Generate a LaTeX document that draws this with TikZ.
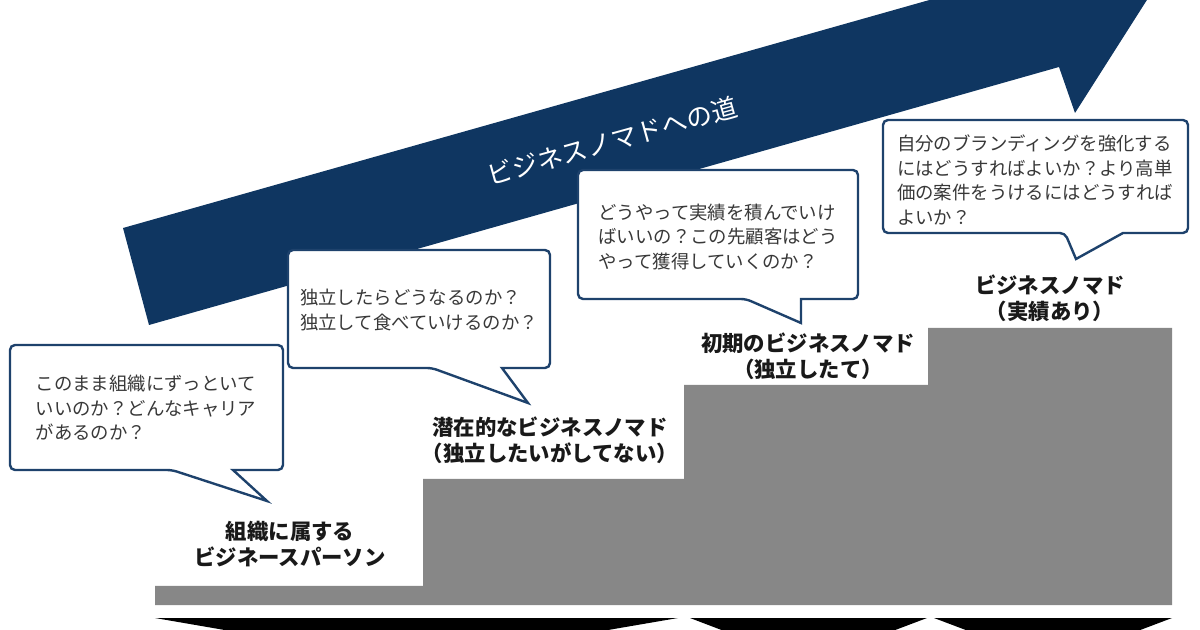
\documentclass[tikz,border=0pt]{standalone}
\usepackage{fontspec}
\newfontfamily\jp{Noto Sans CJK JP}
\definecolor{roadnavy}{HTML}{0F3661}
\definecolor{bubbleblue}{HTML}{1E426C}
\definecolor{stepgray}{HTML}{878787}
\definecolor{qgray}{HTML}{383838}

\begin{document}
\begin{tikzpicture}[x=0.5pt, y=-0.5pt,
    bubble/.style={draw=bubbleblue, line width=1.2pt, fill=white, line join=miter},
    qtext/.style={align=left, text=qgray, inner sep=0pt, font=\jp\fontsize{9.2}{12.3}\selectfont},
    stage/.style={align=center, text=black!90, inner sep=0pt, font=\jp\bfseries\fontsize{10.7}{12.8}\selectfont}]
  \useasboundingbox (0,0) rectangle (1200,630);
  \clip (0,0) rectangle (1200,630);

  % road arrow
  \fill[roadnavy] (149,325) -- (1059,67) -- (1075,113) -- (1152,-8) -- (1026,-69) -- (1032,-29) -- (123,228) -- cycle;
  \node[rotate=15.6, text=white, inner sep=0pt, font=\jp\fontsize{12.9}{14}\selectfont] (road) at (612,141) {ビジネスノマドへの道};

  % stairs
  \fill[stepgray] (155,605) -- (155,586) -- (423,586) -- (423,479) -- (684,479) -- (684,385)
    -- (928,385) -- (928,328) -- (1172,328) -- (1172,605) -- cycle;

  % markers under the stairs
  \fill[black] (155,618) -- (678,618) -- (416,663) -- cycle;
  \fill[black] (690,618) -- (927,618) -- (808,663) -- cycle;
  \fill[black] (934,618) -- (1172,618) -- (1053,663) -- cycle;

  % speech bubbles
  \draw[bubble] (267,501) -- (233,470) [rounded corners=2.5pt] -- (283,470) -- (283,345) -- (10,345) -- (10,470) -- (172,470) [sharp corners] -- cycle;
  \draw[bubble] (528,403) -- (502,368) [rounded corners=2.5pt] -- (550,368) -- (550,250) -- (288,250) -- (288,368) -- (432,368) [sharp corners] -- cycle;
  \draw[bubble] (801,323) -- (801,299) [rounded corners=2.5pt] -- (858,299) -- (858,170) -- (578,170) -- (578,299) -- (746,299) [sharp corners] -- cycle;
  \draw[bubble] (1076,259) -- (1123,233) [rounded corners=2.5pt] -- (1188,233) -- (1188,120) -- (883,120) -- (883,233) -- (1065,233) [sharp corners] -- cycle;

  \node[qtext] (q1) at (146,408) {このまま組織にずっといて\\いいのか？どんなキャリア\\があるのか？};
  \node[qtext] (q2) at (419,310) {独立したらどうなるのか？\\独立して食べていけるのか？};
  \node[qtext] (q3) at (718,237) {どうやって実績を積んでいけ\\ばいいの？この先顧客はどう\\やって獲得していくのか？};
  \node[qtext] (q4) at (1035,180) {自分のブランディングを強化する\\にはどうすればよいか？より高単\\価の案件をうけるにはどうすれば\\よいか？};

  % stages
  \node[stage] (s1) at (290,544) {組織に属する\\ビジネースパーソン};
  \node[stage] (s2) at (550,440) {潜在的なビジネスノマド\\（独立したいがしてない）};
  \node[stage] (s3) at (808,356) {初期のビジネスノマド\\（独立したて）};
  \node[stage] (s4) at (1050,298) {ビジネスノマド\\（実績あり）};
\end{tikzpicture}
\end{document}
